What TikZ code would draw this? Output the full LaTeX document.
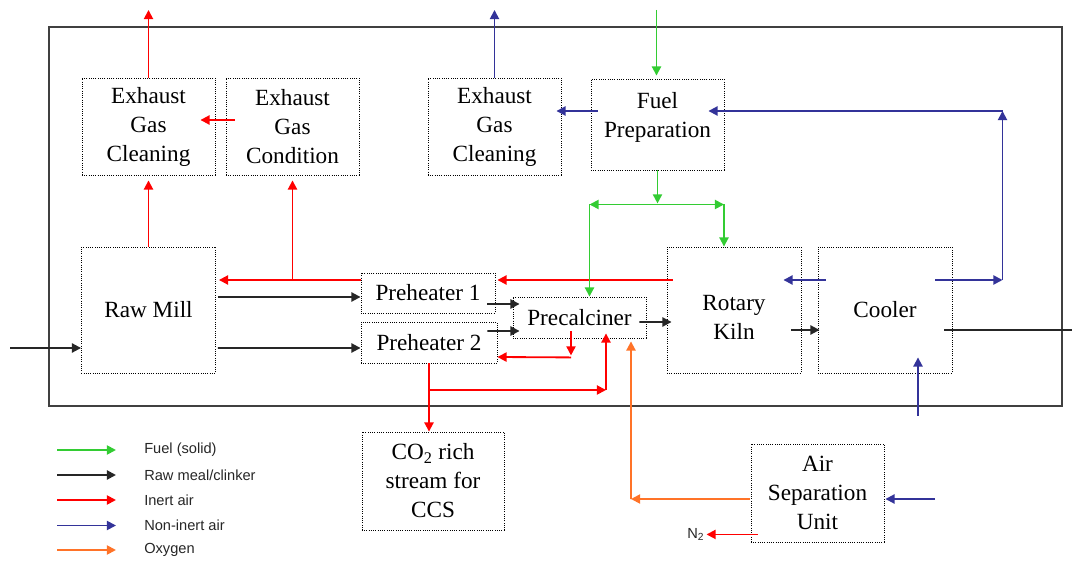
\documentclass[tikz,border=0pt]{standalone}
\usepackage{fontspec}
\setmainfont{Liberation Serif}
\setsansfont{Liberation Sans}
\usetikzlibrary{arrows.meta,calc}

\definecolor{fuelgreen}{RGB}{51,204,51}
\definecolor{inertred}{RGB}{255,0,0}
\definecolor{airblue}{RGB}{51,51,153}
\definecolor{oxorange}{RGB}{255,115,40}
\definecolor{framegray}{RGB}{64,64,64}

\tikzset{
  procbox/.style={draw, densely dotted, line width=0.6pt, align=center, inner sep=0pt, font=\fontsize{16.5}{20.6}\selectfont},
  txt/.style={align=center, inner sep=0pt, font=\fontsize{16.5}{20.6}\selectfont},
  egcsize/.style={minimum width=3.325cm, minimum height=2.425cm},
  bigsize/.style={minimum width=3.35cm, minimum height=3.15cm},
  fuelln/.style={draw=fuelgreen, line width=1.3pt, ->},
  rawln/.style={draw=black!85, line width=1.4pt, ->},
  inertln/.style={draw=inertred, line width=1.3pt, ->},
  airln/.style={draw=airblue, line width=1.3pt, ->},
  oxln/.style={draw=oxorange, line width=1.3pt, ->},
  lgd/.style={anchor=west, inner sep=0pt, text=black!85, font=\sffamily\fontsize{10.4}{12}\selectfont}
}

\begin{document}
\begin{tikzpicture}[x=0.025cm, y=-0.025cm, >={Triangle[length=6.5pt,width=6.5pt]}] % 1 unidad = 1 pixel de la figura
  \useasboundingbox (0,0) rectangle (1072,563);
  \draw[framegray, line width=1pt] (49,27) rectangle (1062,406);
  \node[procbox, egcsize] (egca) at (148.5,126.5) {Exhaust\\Gas\\Cleaning};
  \node[procbox, egcsize] (egcond) at (292.5,126.5) {Exhaust\\Gas\\Condition};
  \node[procbox, egcsize] (egcb) at (494.5,126.5) {Exhaust\\Gas\\Cleaning};
  \node[procbox, minimum width=3.325cm, minimum height=2.275cm] (fuelprep) at (657.5,124.5) {};
  \node[txt] (fueltxt) at (657.5,117) {Fuel\\Preparation};
  \node[procbox, bigsize] (rawmill) at (148.5,310) {Raw Mill};
  \node[procbox, minimum width=3.35cm, minimum height=1cm] (preha) at (428,293) {Preheater 1};
  \node[procbox, minimum width=3.4cm, minimum height=1.025cm] (prehb) at (429,342.5) {Preheater 2};
  \node[procbox, minimum width=3.325cm, minimum height=1.025cm] (precalc) at (579.5,317.5) {Precalciner};
  \node[procbox, bigsize] (kiln) at (734,310) {};
  \node[txt] (kilntxt) at (734,317) {Rotary\\Kiln};
  \node[procbox, bigsize] (cooler) at (885,310) {Cooler};
  \node[procbox, minimum width=3.55cm, minimum height=2.45cm] (co2) at (433,481) {CO\textsubscript{2} rich\\stream for\\CCS};
  \node[procbox, minimum width=3.325cm, minimum height=2.45cm] (asu) at (817.5,493) {Air\\Separation\\Unit};
  \coordinate (exa) at (148.5,10);
  \coordinate (exb) at (494.5,10);
  \coordinate (fin) at (656.5,10);
  \coordinate (rin) at (10,348);
  \coordinate (cout) at (1072,330);
  \coordinate (cin) at (918,416);
  \coordinate (ain) at (935,499);
  \coordinate (gl) at (589.5,204.5);
  \coordinate (gr) at (724,204.5);
  \coordinate (bend) at (1002.5,280);
  \coordinate (bendtop) at (1002.5,111);
  \coordinate (oc) at (631,499);
  \coordinate (rb) at (429,390);
  \coordinate (rc) at (606,390);
  \draw[inertln] (egca.north) -- (exa);
  \draw[inertln] ($(egcond.west)+(9,-6.5)$) -- ($(egca.east)+(-15,-6.5)$);
  \draw[inertln] (rawmill.north) -- ($(egca.south)+(0,5)$);
  \draw[inertln] ($(preha.west)+(0,-13)$) -- ($(rawmill.east)+(3,-30)$);
  \draw[inertln] ($(egcond.south)+(0,105)$) -- ($(egcond.south)+(0,5)$);
  \draw[inertln] ($(kiln.west)+(6,-30)$) -- ($(preha.east)+(2,-13)$);
  \draw[inertln] ($(precalc.south)+(-8.5,-7)$) -- ($(precalc.south)+(-8.5,17)$);
  \draw[inertln] ($(precalc.south)+(-8.5,19)$) -- ($(prehb.east)+(0,14.5)$);
  \draw[inertln] (prehb.south) -- (prehb.south |- co2.north);
  \draw[inertln] (rb) -- (rc);
  \draw[inertln] (rc) -- ($(precalc.south)+(26.5,-5)$);
  \draw[inertln] ($(asu.south west)+(7,-8)$) -- ++(-51,0) node[lgd, anchor=east, xshift=-1pt] (ntwo) {N\textsubscript{2}};
  \draw[airln] (egcb.north) -- (exb);
  \draw[airln] ($(fuelprep.west)+(7,-13.5)$) -- ($(egcb.east)+(-5,-15.5)$);
  \draw[airln] ($(cooler.west)+(8,-30)$) -- ($(kiln.east)+(-18,-30)$);
  \draw[airln] ($(cooler.east)+(-17,-30)$) -- (bend);
  \draw[airln] (bend) -- (bendtop);
  \draw[airln] (bendtop) -- ($(fuelprep.east)+(-16,-13.5)$);
  \draw[airln] (cin) -- ($(cooler.south)+(33,-16)$);
  \draw[airln] (ain) -- ($(asu.east)+(1,6)$);
  \draw[fuelln] (fin) -- ($(fuelprep.north)+(-1,-3)$);
  \draw[fuelln] (fuelprep.south) -- ($(fuelprep.south)+(0,33)$);
  \draw[fuelln, <->] (gl) -- (gr);
  \draw[fuelln] (gl) -- ($(precalc.north)+(10,0)$);
  \draw[fuelln] (gr) -- ($(kiln.north)+(-10,0)$);
  \draw[rawln] (rin) -- ($(rawmill.west)+(0,38)$);
  \draw[rawln] ($(rawmill.east)+(2,-13)$) -- ($(preha.west)+(0,4)$);
  \draw[rawln] ($(rawmill.east)+(2,38)$) -- ($(prehb.west)+(0,5.5)$);
  \draw[rawln] ($(preha.east)+(-8,11)$) -- ($(precalc.west)+(7,-13.5)$);
  \draw[rawln] ($(prehb.east)+(-10,-11.5)$) -- ($(precalc.west)+(7,13.5)$);
  \draw[rawln] ($(precalc.east)+(-7,4.5)$) -- ($(kiln.west)+(5,12)$);
  \draw[rawln] ($(kiln.east)+(-10,20)$) -- ($(cooler.west)+(2,20)$);
  \draw[rawln, -] ($(cooler.east)+(-8,20)$) -- (cout);
  \draw[oxln] ($(asu.west)+(-1,6)$) -- (oc);
  \draw[oxln] (oc) -- ($(precalc.south)+(51.5,3)$);
  \node[lgd] (lgfuel) at (144,450) {Fuel (solid)};
  \node[lgd] (lgraw) at (144,475) {Raw meal/clinker};
  \node[lgd] (lginert) at (144,500) {Inert air};
  \node[lgd] (lgair) at (144,525.5) {Non-inert air};
  \node[lgd] (lgox) at (144,550) {Oxygen};
  \draw[fuelln] ($(lgfuel.west)+(-87,0)$) -- ($(lgfuel.west)+(-28,0)$);
  \draw[rawln] ($(lgraw.west)+(-87,0)$) -- ($(lgraw.west)+(-28,0)$);
  \draw[inertln] ($(lginert.west)+(-87,0)$) -- ($(lginert.west)+(-28,0)$);
  \draw[airln] ($(lgair.west)+(-87,0)$) -- ($(lgair.west)+(-28,0)$);
  \draw[oxln] ($(lgox.west)+(-87,0)$) -- ($(lgox.west)+(-28,0)$);
\end{tikzpicture}
\end{document}
